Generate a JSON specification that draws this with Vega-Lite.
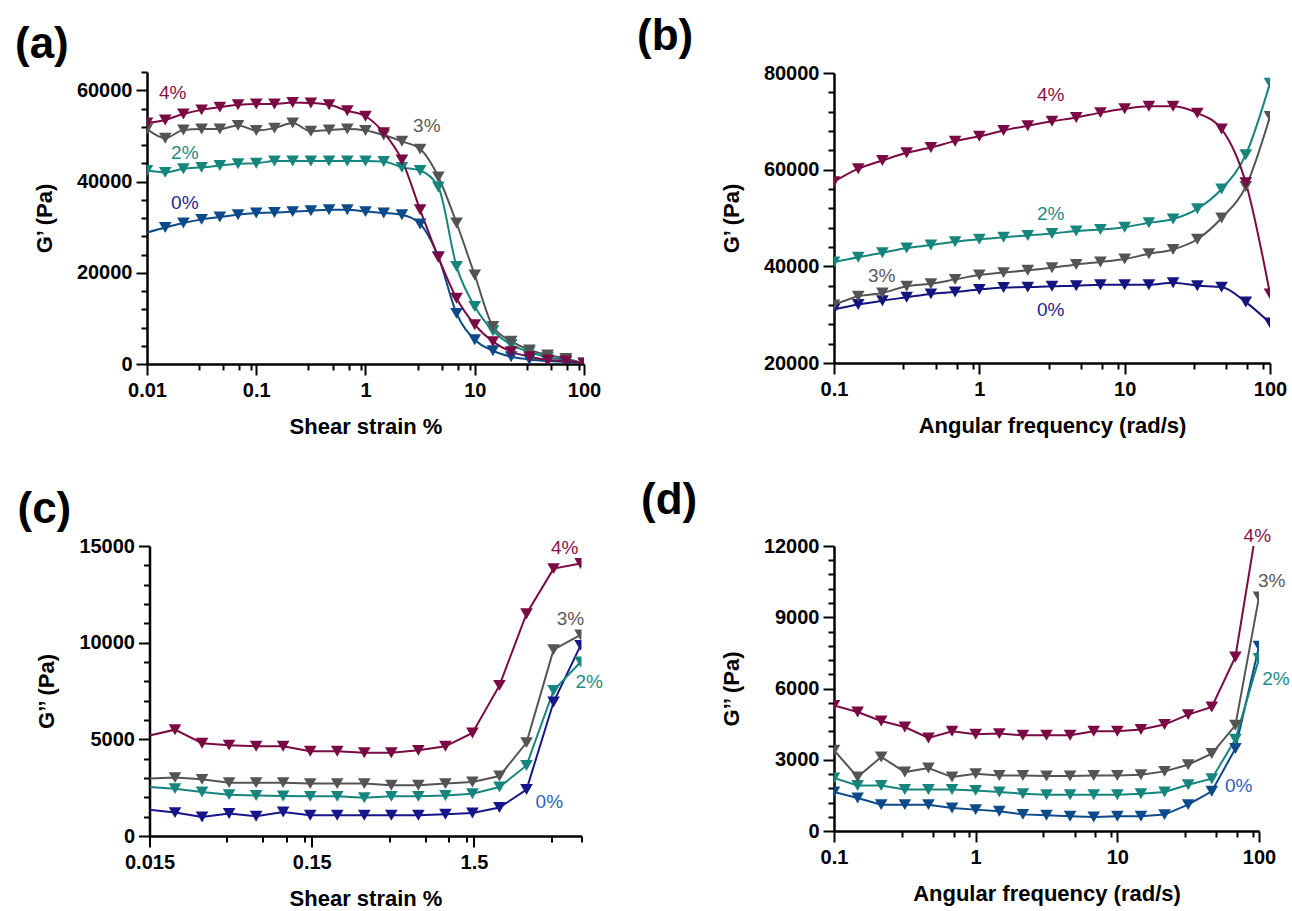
{
"$schema": "https://vega.github.io/schema/vega-lite/v6.json",
"background": "white",
"padding": {"left": 15, "top": 15, "right": 0, "bottom": 0},
"config": {
 "view": {"stroke": null},
 "font": "Liberation Sans",
 "axis": {"grid": false, "domainColor": "black", "domainWidth": 2.5, "tickColor": "black", "tickWidth": 2, "labelFont": "Liberation Sans", "labelFontSize": 20, "labelFontWeight": "bold", "labelColor": "black", "titleFont": "Liberation Sans", "titleFontSize": 22, "titleFontWeight": "bold", "titleColor": "black", "labelOverlap": false, "labelFlush": false, "labelBound": false, "format": "~g"},
 "axisX": {"labelPadding": 5, "titlePadding": 16},
 "axisY": {"labelPadding": 4, "titlePadding": 20},
 "title": {"font": "Liberation Sans", "fontSize": 44, "fontWeight": "bold", "color": "black", "anchor": "start", "frame": "group", "offset": 0}
},
"datasets": {
 "a": [
  {"x":0.01,"0%":28800,"2%":42400,"3%":51500,"4%":52800},
  {"x":0.01468,"0%":29900,"2%":42000,"3%":49500,"4%":53500},
  {"x":0.02154,"0%":30900,"2%":42800,"3%":51300,"4%":54800},
  {"x":0.03162,"0%":31700,"2%":43100,"3%":51500,"4%":55700},
  {"x":0.04642,"0%":32200,"2%":43500,"3%":51500,"4%":56300},
  {"x":0.06813,"0%":32700,"2%":43900,"3%":52300,"4%":56800},
  {"x":0.1,"0%":33100,"2%":44000,"3%":51200,"4%":57000},
  {"x":0.1468,"0%":33200,"2%":44500,"3%":51700,"4%":57000},
  {"x":0.2154,"0%":33400,"2%":44500,"3%":52800,"4%":57300},
  {"x":0.3162,"0%":33600,"2%":44500,"3%":51000,"4%":57200},
  {"x":0.4642,"0%":33800,"2%":44500,"3%":51300,"4%":56800},
  {"x":0.6813,"0%":33800,"2%":44500,"3%":51500,"4%":55500},
  {"x":1,"0%":33400,"2%":44500,"3%":51200,"4%":54300},
  {"x":1.468,"0%":33100,"2%":44400,"3%":50200,"4%":50700},
  {"x":2.154,"0%":32700,"2%":43100,"3%":48800,"4%":44700},
  {"x":3.162,"0%":30700,"2%":42400,"3%":47100,"4%":33800},
  {"x":4.642,"0%":23500,"2%":38800,"3%":41000,"4%":23400},
  {"x":6.813,"0%":11100,"2%":21400,"3%":30900,"4%":14400},
  {"x":10,"0%":5300,"2%":12600,"3%":19500,"4%":8600},
  {"x":14.68,"0%":2900,"2%":7300,"3%":8200,"4%":4900},
  {"x":21.54,"0%":1600,"2%":4200,"3%":5000,"4%":2700},
  {"x":31.62,"0%":1000,"2%":2700,"3%":3100,"4%":1600},
  {"x":46.42,"0%":650,"2%":1500,"3%":2000,"4%":900},
  {"x":68.13,"0%":450,"2%":900,"3%":1200,"4%":650},
  {"x":100,"0%":150,"2%":150,"3%":150,"4%":150}
 ],
 "la": [
  {"x":0.0172,"y":59300,"s":"4%"},
  {"x":3.64,"y":52100,"s":"3%"},
  {"x":0.0222,"y":46300,"s":"2%"},
  {"x":0.0222,"y":35300,"s":"0%"}
 ],
 "b": [
  {"x":0.1,"0%":31100,"2%":40900,"3%":32000,"4%":57500},
  {"x":0.1468,"0%":32100,"2%":41900,"3%":33800,"4%":60200},
  {"x":0.2154,"0%":32900,"2%":42800,"3%":34500,"4%":61900},
  {"x":0.3162,"0%":33600,"2%":43800,"3%":35900,"4%":63500},
  {"x":0.4642,"0%":34300,"2%":44400,"3%":36400,"4%":64600},
  {"x":0.6813,"0%":34700,"2%":45100,"3%":37300,"4%":65900},
  {"x":1,"0%":35200,"2%":45600,"3%":38200,"4%":66900},
  {"x":1.468,"0%":35600,"2%":46000,"3%":38700,"4%":68100},
  {"x":2.154,"0%":35700,"2%":46400,"3%":39200,"4%":69100},
  {"x":3.162,"0%":35900,"2%":46800,"3%":39700,"4%":70000},
  {"x":4.642,"0%":36000,"2%":47300,"3%":40400,"4%":70800},
  {"x":6.813,"0%":36200,"2%":47600,"3%":40900,"4%":71800},
  {"x":10,"0%":36200,"2%":48100,"3%":41500,"4%":72600},
  {"x":14.68,"0%":36200,"2%":49000,"3%":42600,"4%":73100},
  {"x":21.54,"0%":36600,"2%":49800,"3%":43500,"4%":73100},
  {"x":31.62,"0%":36000,"2%":51900,"3%":45600,"4%":71700},
  {"x":46.42,"0%":35700,"2%":56000,"3%":50000,"4%":68400},
  {"x":68.13,"0%":32600,"2%":63100,"3%":56500,"4%":57300},
  {"x":100,"0%":28300,"2%":77900,"3%":71000,"4%":34300}
 ],
 "lb": [
  {"x":3.1,"y":75500,"s":"4%"},
  {"x":3.1,"y":50900,"s":"2%"},
  {"x":0.213,"y":38000,"s":"3%"},
  {"x":3.1,"y":30900,"s":"0%"}
 ],
 "c": [
  {"x":0.015,"0%":1360,"2%":2530,"3%":2970,"4%":5200},
  {"x":0.02154,"0%":1210,"2%":2450,"3%":3020,"4%":5500},
  {"x":0.03162,"0%":980,"2%":2280,"3%":2930,"4%":4800},
  {"x":0.04642,"0%":1160,"2%":2140,"3%":2760,"4%":4700},
  {"x":0.06813,"0%":1020,"2%":2100,"3%":2760,"4%":4640},
  {"x":0.1,"0%":1240,"2%":2070,"3%":2760,"4%":4640},
  {"x":0.1468,"0%":1070,"2%":2050,"3%":2710,"4%":4380},
  {"x":0.2154,"0%":1070,"2%":2050,"3%":2710,"4%":4380},
  {"x":0.3162,"0%":1070,"2%":1980,"3%":2710,"4%":4310},
  {"x":0.4642,"0%":1070,"2%":2050,"3%":2620,"4%":4310},
  {"x":0.6813,"0%":1070,"2%":2050,"3%":2620,"4%":4430},
  {"x":1,"0%":1120,"2%":2100,"3%":2710,"4%":4640},
  {"x":1.468,"0%":1190,"2%":2190,"3%":2790,"4%":5330},
  {"x":2.154,"0%":1470,"2%":2530,"3%":3100,"4%":7790},
  {"x":3.162,"0%":2400,"2%":3650,"3%":4830,"4%":11500},
  {"x":4.642,"0%":6930,"2%":7530,"3%":9640,"4%":13830},
  {"x":6.813,"0%":9860,"2%":9000,"3%":10400,"4%":14100}
 ],
 "lc": [
  {"x":5.43,"y":14900,"s":"4%"},
  {"x":5.9,"y":11240,"s":"3%"},
  {"x":7.7,"y":7960,"s":"2%"},
  {"x":4.37,"y":1760,"s":"0%"}
 ],
 "d": [
  {"x":0.1,"0%":1640,"2%":2230,"3%":3400,"4%":5290},
  {"x":0.1468,"0%":1390,"2%":1920,"3%":2270,"4%":5010},
  {"x":0.2154,"0%":1110,"2%":1920,"3%":3120,"4%":4630},
  {"x":0.3162,"0%":1110,"2%":1750,"3%":2480,"4%":4380},
  {"x":0.4642,"0%":1110,"2%":1750,"3%":2650,"4%":3920},
  {"x":0.6813,"0%":970,"2%":1750,"3%":2270,"4%":4200},
  {"x":1,"0%":900,"2%":1710,"3%":2410,"4%":4070},
  {"x":1.468,"0%":830,"2%":1640,"3%":2340,"4%":4100},
  {"x":2.154,"0%":700,"2%":1570,"3%":2340,"4%":4030},
  {"x":3.162,"0%":660,"2%":1530,"3%":2320,"4%":4030},
  {"x":4.642,"0%":620,"2%":1530,"3%":2320,"4%":4030},
  {"x":6.813,"0%":590,"2%":1530,"3%":2340,"4%":4200},
  {"x":10,"0%":620,"2%":1530,"3%":2340,"4%":4200},
  {"x":14.68,"0%":620,"2%":1570,"3%":2370,"4%":4270},
  {"x":21.54,"0%":690,"2%":1640,"3%":2510,"4%":4480},
  {"x":31.62,"0%":1110,"2%":1950,"3%":2790,"4%":4900},
  {"x":46.42,"0%":1670,"2%":2200,"3%":3260,"4%":5220},
  {"x":68.13,"0%":3470,"2%":3860,"3%":4450,"4%":7330},
  {"x":100,"0%":7780,"2%":7260,"3%":9850,"4%":13400}
 ],
 "ld": [
  {"x":97.3,"y":12420,"s":"4%"},
  {"x":123,"y":10510,"s":"3%"},
  {"x":131.6,"y":6410,"s":"2%"},
  {"x":71.9,"y":1890,"s":"0%"}
 ]
},
"columns": 2,
"bounds": "flush",
"center": true,
"spacing": {"row": 182, "column": 250},
"resolve": {"scale": {"color": "independent", "fill": "independent"}},
"concat": [
   {
    "width": 437, "height": 292,
    "title": {"text": "(a)", "dx": -132},
    "resolve": {"axis": {"x": "independent", "y": "independent"}},
    "layer": [
     {"data": {"name": "a"}, "transform": [{"fold": ["0%","2%","3%","4%"], "as": ["s","y"]}],
      "mark": {"type": "line", "interpolate": "monotone", "strokeWidth": 2, "clip": true},
      "encoding": {
       "x": {"field": "x", "type": "quantitative", "scale": {"type": "log", "domain": [0.01, 100], "nice": false},
        "axis": {"title": "Shear strain %", "values": [0.01,0.1,1,10,100], "tickSize": 11}},
       "y": {"field": "y", "type": "quantitative", "scale": {"domain": [0, 64000], "nice": false, "zero": false},
        "axis": {"title": "G’ (Pa)", "values": [0,20000,40000,60000], "format": "d", "tickSize": 11}},
       "color": {"field": "s", "type": "nominal", "scale": {"domain": ["0%","2%","3%","4%"], "range": ["#0d4a8a","#16857d","#545454","#7a0a43"]}, "legend": null}
      }},
     {"data": {"name": "a"}, "transform": [{"fold": ["0%","2%","3%","4%"], "as": ["s","y"]}, {"filter": "!(datum.s == '0%' && datum.x == 0.01)"}],
      "mark": {"type": "point", "shape": "triangle-down", "filled": true, "size": 160, "opacity": 1, "clip": true},
      "encoding": {
       "x": {"field": "x", "type": "quantitative", "axis": {"orient": "bottom", "title": null, "labels": false, "domain": false, "tickSize": 6, "values": [0.03,0.05,0.07,0.09,0.3,0.5,0.7,0.9,3,5,7,9,30,50,70,90]}},
       "y": {"field": "y", "type": "quantitative", "axis": {"orient": "left", "title": null, "labels": false, "domain": false, "tickSize": 6, "values": [4000,8000,12000,16000,24000,28000,32000,36000,44000,48000,52000,56000,64000]}},
       "color": {"field": "s", "type": "nominal"}}},
     {"data": {"name": "la"},
      "mark": {"type": "text", "fontSize": 19, "font": "Liberation Sans", "align": "center", "baseline": "middle"},
      "encoding": {"x": {"field": "x", "type": "quantitative", "axis": null}, "y": {"field": "y", "type": "quantitative", "axis": null}, "text": {"field": "s"},
       "fill": {"field": "s", "type": "nominal", "scale": {"domain": ["0%","2%","3%","4%"], "range": ["#1f1f8f","#1b8c84","#5a5a5a","#8a1048"]}, "legend": null}}}
    ]
   },
   {
    "width": 436, "height": 290,
    "title": {"text": "(b)", "dx": -197},
    "resolve": {"axis": {"x": "independent", "y": "independent"}},
    "layer": [
     {"data": {"name": "b"}, "transform": [{"fold": ["0%","2%","3%","4%"], "as": ["s","y"]}],
      "mark": {"type": "line", "interpolate": "monotone", "strokeWidth": 2, "clip": true},
      "encoding": {
       "x": {"field": "x", "type": "quantitative", "scale": {"type": "log", "domain": [0.1, 100], "nice": false},
        "axis": {"title": "Angular frequency (rad/s)", "values": [0.1,1,10,100], "tickSize": 11}},
       "y": {"field": "y", "type": "quantitative", "scale": {"domain": [20000, 80000], "nice": false, "zero": false},
        "axis": {"title": "G’ (Pa)", "values": [20000,40000,60000,80000], "format": "d", "tickSize": 11}},
       "color": {"field": "s", "type": "nominal", "scale": {"domain": ["0%","2%","3%","4%"], "range": ["#14147f","#16857d","#545454","#7a0a43"]}, "legend": null}
      }},
     {"data": {"name": "b"}, "transform": [{"fold": ["0%","2%","3%","4%"], "as": ["s","y"]}],
      "mark": {"type": "point", "shape": "triangle-down", "filled": true, "size": 160, "opacity": 1, "clip": true},
      "encoding": {
       "x": {"field": "x", "type": "quantitative", "axis": {"orient": "bottom", "title": null, "labels": false, "domain": false, "tickSize": 6, "values": [0.3,0.5,0.7,0.9,3,5,7,9,30,50,70,90]}},
       "y": {"field": "y", "type": "quantitative", "axis": {"orient": "left", "title": null, "labels": false, "domain": false, "tickSize": 6, "values": [24000,28000,32000,36000,44000,48000,52000,56000,64000,68000,72000,76000]}},
       "color": {"field": "s", "type": "nominal"}}},
     {"data": {"name": "lb"},
      "mark": {"type": "text", "fontSize": 19, "font": "Liberation Sans", "align": "center", "baseline": "middle"},
      "encoding": {"x": {"field": "x", "type": "quantitative", "axis": null}, "y": {"field": "y", "type": "quantitative", "axis": null}, "text": {"field": "s"},
       "fill": {"field": "s", "type": "nominal", "scale": {"domain": ["0%","2%","3%","4%"], "range": ["#1f1f8f","#1b8c84","#5a5a5a","#8a1048"]}, "legend": null}}}
    ]
   },
   {
    "width": 432, "height": 290,
    "title": {"text": "(c)", "dx": -132},
    "resolve": {"axis": {"x": "independent", "y": "independent"}},
    "layer": [
     {"data": {"name": "c"}, "transform": [{"fold": ["0%","2%","3%","4%"], "as": ["s","y"]}],
      "mark": {"type": "line", "strokeWidth": 2, "clip": true},
      "encoding": {
       "x": {"field": "x", "type": "quantitative", "scale": {"type": "log", "domain": [0.015, 6.9], "nice": false},
        "axis": {"title": "Shear strain %", "values": [0.015,0.15,1.5], "tickSize": 11}},
       "y": {"field": "y", "type": "quantitative", "scale": {"domain": [0, 15000], "nice": false, "zero": false},
        "axis": {"title": "G’’ (Pa)", "values": [0,5000,10000,15000], "format": "d", "tickSize": 11}},
       "color": {"field": "s", "type": "nominal", "scale": {"domain": ["0%","2%","3%","4%"], "range": ["#16168a","#16857d","#545454","#7a0a43"]}, "legend": null}
      }},
     {"data": {"name": "c"}, "transform": [{"fold": ["0%","2%","3%","4%"], "as": ["s","y"]}, {"filter": "datum.x > 0.016"}],
      "mark": {"type": "point", "shape": "triangle-down", "filled": true, "size": 160, "opacity": 1, "clip": true},
      "encoding": {
       "x": {"field": "x", "type": "quantitative", "axis": {"orient": "bottom", "title": null, "labels": false, "domain": false, "tickSize": 6, "values": [0.045,0.075,0.105,0.135,0.45,0.75,1.05,1.35,4.5,6.9]}},
       "y": {"field": "y", "type": "quantitative", "axis": {"orient": "left", "title": null, "labels": false, "domain": false, "tickSize": 6, "values": [1000,2000,3000,4000,6000,7000,8000,9000,11000,12000,13000,14000]}},
       "color": {"field": "s", "type": "nominal"}}},
     {"data": {"name": "lc"},
      "mark": {"type": "text", "fontSize": 19, "font": "Liberation Sans", "align": "center", "baseline": "middle"},
      "encoding": {"x": {"field": "x", "type": "quantitative", "axis": null}, "y": {"field": "y", "type": "quantitative", "axis": null}, "text": {"field": "s"},
       "fill": {"field": "s", "type": "nominal", "scale": {"domain": ["0%","2%","3%","4%"], "range": ["#2d62b5","#1b8c84","#5a5a5a","#8a1048"]}, "legend": null}}}
    ]
   },
   {
    "width": 425, "height": 285,
    "title": {"text": "(d)", "dx": -193},
    "resolve": {"axis": {"x": "independent", "y": "independent"}},
    "layer": [
     {"data": {"name": "d"}, "transform": [{"fold": ["0%","2%","3%","4%"], "as": ["s","y"]}],
      "mark": {"type": "line", "strokeWidth": 2, "clip": true},
      "encoding": {
       "x": {"field": "x", "type": "quantitative", "scale": {"type": "log", "domain": [0.1, 100], "nice": false},
        "axis": {"title": "Angular frequency (rad/s)", "values": [0.1,1,10,100], "tickSize": 11}},
       "y": {"field": "y", "type": "quantitative", "scale": {"domain": [0, 12000], "nice": false, "zero": false},
        "axis": {"title": "G’’ (Pa)", "values": [0,3000,6000,9000,12000], "format": "d", "tickSize": 11}},
       "color": {"field": "s", "type": "nominal", "scale": {"domain": ["0%","2%","3%","4%"], "range": ["#0d4a8a","#16857d","#545454","#7a0a43"]}, "legend": null}
      }},
     {"data": {"name": "d"}, "transform": [{"fold": ["0%","2%","3%","4%"], "as": ["s","y"]}],
      "mark": {"type": "point", "shape": "triangle-down", "filled": true, "size": 160, "opacity": 1, "clip": true},
      "encoding": {
       "x": {"field": "x", "type": "quantitative", "axis": {"orient": "bottom", "title": null, "labels": false, "domain": false, "tickSize": 6, "values": [0.3,0.5,0.7,0.9,3,5,7,9,30,50,70,90]}},
       "y": {"field": "y", "type": "quantitative", "axis": {"orient": "left", "title": null, "labels": false, "domain": false, "tickSize": 6, "values": [600,1200,1800,2400,3600,4200,4800,5400,6600,7200,7800,8400,9600,10200,10800,11400]}},
       "color": {"field": "s", "type": "nominal"}}},
     {"data": {"name": "ld"},
      "mark": {"type": "text", "fontSize": 19, "font": "Liberation Sans", "align": "center", "baseline": "middle"},
      "encoding": {"x": {"field": "x", "type": "quantitative", "axis": null}, "y": {"field": "y", "type": "quantitative", "axis": null}, "text": {"field": "s"},
       "fill": {"field": "s", "type": "nominal", "scale": {"domain": ["0%","2%","3%","4%"], "range": ["#2d62b5","#1b8c84","#5a5a5a","#8a1048"]}, "legend": null}}}
    ]
   }
]
}
